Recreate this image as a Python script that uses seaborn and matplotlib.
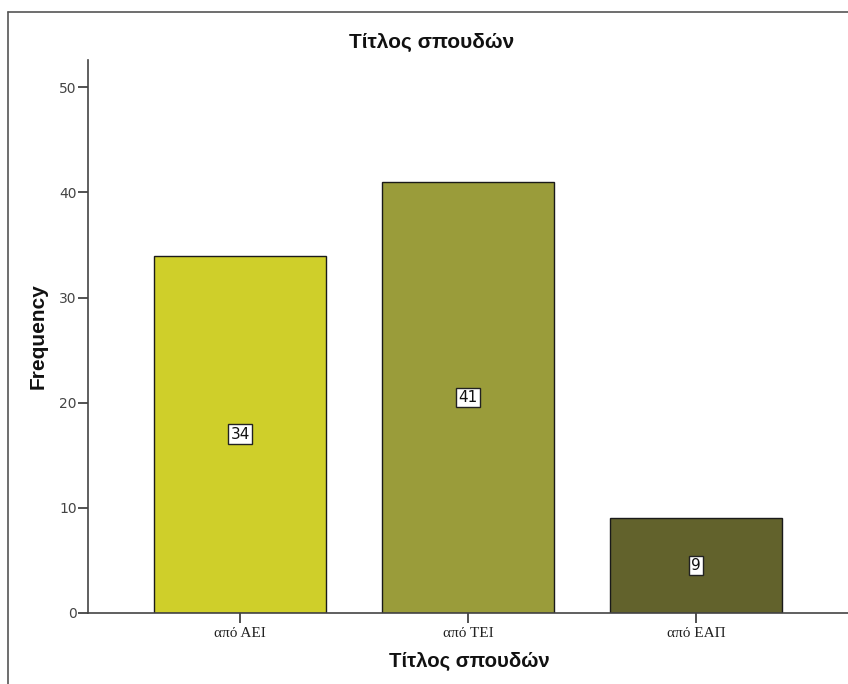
import matplotlib
matplotlib.use("Agg")
import matplotlib.pyplot as plt
import seaborn as sns
import pandas as pd
from matplotlib.lines import Line2D

# Frequencies by degree type
categories = ["από ΑΕΙ", "από ΤΕΙ", "από ΕΑΠ"]
counts = [34, 41, 9]
bar_colors = ["#cfcf2a", "#9a9c3a", "#62622c"]
y_ticks = [0, 10, 20, 30, 40, 50]

df = pd.DataFrame({"cat": categories, "freq": counts})

sns.set_theme(style="white")
plt.rcParams["font.family"] = ["Liberation Sans", "DejaVu Sans"]

fig = plt.figure(figsize=(8.48, 6.84), dpi=100)
ax = fig.add_axes([88 / 848, 71 / 684, 760 / 848, 553 / 684])

sns.barplot(data=df, x="cat", y="freq", hue="cat", palette=bar_colors,
            width=0.755, edgecolor="#1a1a1a", linewidth=1.0, legend=False,
            ax=ax, saturation=1)

ax.set_xlim(-0.667, 2.667)
ax.set_ylim(0, 52.6)
ax.set_yticks(y_ticks)

for side in ("top", "right"):
    ax.spines[side].set_visible(False)
for side in ("left", "bottom"):
    ax.spines[side].set_color("#444444")
    ax.spines[side].set_linewidth(1.2)

ax.tick_params(axis="y", direction="out", length=7, width=1.2, color="#333333",
               labelsize=10, labelcolor="#444444", pad=1, left=True)
ax.tick_params(axis="x", direction="out", length=7, width=1.2, color="#333333",
               pad=3, bottom=True)
for lbl in ax.get_yticklabels():
    lbl.set_fontfamily("DejaVu Sans")
for lbl in ax.get_xticklabels():
    lbl.set_fontfamily("Liberation Serif")
    lbl.set_fontsize(11)
    lbl.set_color("#222222")

ax.set_xlabel("Τίτλος σπουδών", fontsize=14.7, fontweight="bold",
              color="#111111")
ax.set_ylabel("Frequency", fontsize=15, fontweight="bold", color="#111111")
ax.xaxis.set_label_coords((469 - 88) / 760, (613 - 661) / 553)
ax.xaxis.label.set_verticalalignment("center")
ax.yaxis.set_label_coords((38 - 88) / 760, 0.5)
ax.yaxis.label.set_verticalalignment("center")

# Value labels in the middle of each bar
for i, v in enumerate(counts):
    ax.text(i, v / 2, str(v), ha="center", va="center", fontsize=11,
            fontfamily="DejaVu Sans", color="#111111",
            bbox=dict(boxstyle="square,pad=0.15", facecolor="white",
                      edgecolor="#222222", linewidth=1.0))

fig.text(432 / 848, 1 - 42 / 684, "Τίτλος σπουδών", ha="center", va="center",
         fontsize=15, fontweight="bold", color="#111111")

# Outer frame (left and top edges)
fig.add_artist(Line2D([8 / 848, 8 / 848], [0, 1 - 12 / 684],
                      transform=fig.transFigure, color="#555555", linewidth=1.2))
fig.add_artist(Line2D([8 / 848, 1], [1 - 12 / 684, 1 - 12 / 684],
                      transform=fig.transFigure, color="#555555", linewidth=1.2))

fig.savefig("out.png", dpi=100)
